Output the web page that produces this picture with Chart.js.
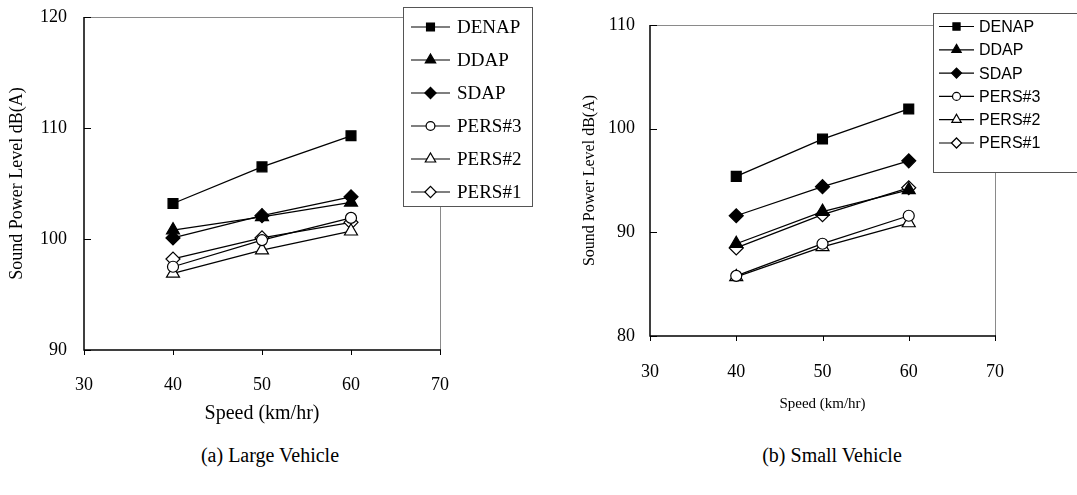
<!DOCTYPE html>
<html>
<head>
<meta charset="utf-8">
<script src="https://cdn.jsdelivr.net/npm/chart.js@4.4.1/dist/chart.umd.min.js"></script>
<style>
  body{margin:0;background:#fff;width:1077px;height:495px;overflow:hidden;position:relative;font-family:"Liberation Serif","Times New Roman",serif}
  .panel{position:absolute;top:0}
  .cap{position:absolute;top:444px;width:300px;text-align:center;font-size:20px;color:#000}
</style>
</head>
<body>
<div class="panel" style="left:0"><canvas id="large" width="540" height="440"></canvas></div>
<div class="panel" style="left:540px"><canvas id="small" width="537" height="440"></canvas></div>
<div class="cap" style="left:120px">(a) Large Vehicle</div>
<div class="cap" style="left:682px">(b) Small Vehicle</div>
<script>
// vitesses (km/h) et graduations
const speeds = [40, 50, 60];
const speedTicks = [30, 40, 50, 60, 70];
const seriesNames = ["DENAP", "DDAP", "SDAP", "PERS#3", "PERS#2", "PERS#1"];

// niveaux de puissance acoustique dB(A) — gros véhicules
const largeDenap = [103.2, 106.5, 109.3];
const largeDdap  = [100.8, 102.0, 103.3];
const largeSdap  = [100.1, 102.1, 103.8];
const largePers3 = [97.5, 99.9, 101.9];
const largePers2 = [96.9, 99.0, 100.7];
const largePers1 = [98.2, 100.1, 101.5];
const largeYTicks = [90, 100, 110, 120];

// petits véhicules
const smallDenap = [95.4, 99.0, 101.9];
const smallDdap  = [88.9, 92.0, 94.1];
const smallSdap  = [91.6, 94.4, 96.9];
const smallPers3 = [85.8, 88.9, 91.6];
const smallPers2 = [85.7, 88.6, 90.9];
const smallPers1 = [88.5, 91.7, 94.3];
const smallYTicks = [80, 90, 100, 110];

// style des marqueurs, dans l'ordre des séries
const marks = [
  {style:"rect",     fill:true,  r:7},
  {style:"triangle", fill:true,  r:7.5},
  {style:"rectRot",  fill:true,  r:7},
  {style:"circle",   fill:false, r:5.5},
  {style:"triangle", fill:false, r:7.5},
  {style:"rectRot",  fill:false, r:7},
];

function drawMark(ctx, style, fill, x, y, r){
  ctx.beginPath();
  if (style === "rect"){ const s = r*Math.SQRT1_2; ctx.rect(x-s, y-s, 2*s, 2*s); }
  else if (style === "circle"){ ctx.arc(x, y, r, 0, Math.PI*2); }
  else if (style === "rectRot"){ ctx.moveTo(x-r,y); ctx.lineTo(x,y-r); ctx.lineTo(x+r,y); ctx.lineTo(x,y+r); ctx.closePath(); }
  else if (style === "triangle"){
    for (let i=0;i<3;i++){ const a = i*2*Math.PI/3; const px = x+Math.sin(a)*r, py = y-Math.cos(a)*r; i?ctx.lineTo(px,py):ctx.moveTo(px,py); }
    ctx.closePath();
  }
  ctx.fillStyle = fill ? "#000" : "#fff";
  ctx.fill();
  ctx.lineWidth = 1.2; ctx.strokeStyle = "#000";
  ctx.stroke();
}

// cadre : axes noirs à gauche/en bas, bords gris en haut/à droite, petites graduations
const framePlugin = {
  id:"frame",
  beforeDatasetsDraw(chart){
    const {ctx, chartArea:a, scales:{x, y}} = chart;
    ctx.save();
    ctx.strokeStyle = "#8a8a8a"; ctx.lineWidth = 1;
    ctx.beginPath(); ctx.moveTo(a.left, a.top+0.5); ctx.lineTo(a.right+0.5, a.top+0.5); ctx.lineTo(a.right+0.5, a.bottom); ctx.stroke();
    ctx.strokeStyle = "#000"; ctx.lineWidth = 1.5;
    ctx.beginPath(); ctx.moveTo(a.left, a.top); ctx.lineTo(a.left, a.bottom); ctx.lineTo(a.right+1, a.bottom); ctx.stroke();
    ctx.lineWidth = 1;
    ctx.beginPath();
    y.ticks.forEach(t => { const py = Math.round(y.getPixelForValue(t.value))+0.5; ctx.moveTo(a.left, py); ctx.lineTo(a.left+7, py); });
    x.ticks.forEach(t => { const px = Math.round(x.getPixelForValue(t.value))+0.5; ctx.moveTo(px, a.bottom); ctx.lineTo(px, a.bottom+5); });
    ctx.stroke();
    ctx.restore();
  }
};

// légende encadrée, chevauchant le coin haut-droit du cadre
const boxLegend = {
  id:"boxLegend",
  afterDraw(chart, args, o){
    const ctx = chart.ctx;
    ctx.save();
    ctx.fillStyle = "#fff"; ctx.fillRect(o.x, o.y, o.w, o.h);
    ctx.strokeStyle = "#555"; ctx.lineWidth = 1;
    ctx.strokeRect(o.x+0.5, o.y+0.5, o.w, o.h);
    ctx.font = o.font; ctx.textBaseline = "middle"; ctx.fillStyle = "#000";
    chart.data.datasets.forEach((ds, i) => {
      const ry = o.y + o.first + i*o.step;
      ctx.strokeStyle = "#000"; ctx.lineWidth = 1.2;
      ctx.beginPath(); ctx.moveTo(o.lineX0, ry); ctx.lineTo(o.lineX1, ry); ctx.stroke();
      const m = marks[i];
      drawMark(ctx, m.style, m.fill, (o.lineX0+o.lineX1)/2, ry, m.r*o.scale);
      ctx.fillStyle = "#000";
      ctx.fillText(ds.label, o.textX, ry+1);
    });
    ctx.restore();
  }
};

function makeDatasets(series){
  return series.map((vals, i) => ({
    label: seriesNames[i],
    data: vals.map((v, k) => ({x: speeds[k], y: v})),
    borderColor:"#000", borderWidth:1.3, tension:0,
    pointStyle: marks[i].style, pointRadius: marks[i].r,
    pointBackgroundColor: marks[i].fill ? "#000" : "#fff",
    pointBorderColor:"#000", pointBorderWidth:1.2,
  }));
}

function buildChart(id, series, yTicks, L){
  const serif = "'Liberation Serif','Times New Roman',serif";
  new Chart(document.getElementById(id), {
    type:"line",
    data:{ datasets: makeDatasets(series) },
    plugins:[framePlugin, boxLegend],
    options:{
      responsive:false, animation:false, devicePixelRatio:1,
      layout:{ autoPadding:false, padding:{top:L.top, right:L.right, left:0, bottom:0} },
      scales:{
        x:{ type:"linear", min:speedTicks[0], max:speedTicks[speedTicks.length-1],
            afterBuildTicks: s => { s.ticks = speedTicks.map(v => ({value:v})); },
            afterFit: s => { s.height = L.xAxisH; s.paddingLeft = 0; s.paddingRight = 0; },
            grid:{display:false, drawTicks:false}, border:{display:false},
            ticks:{ padding:L.xTickPad, color:"#000", font:{family:serif, size:18} },
            title:{ display:true, text:"Speed (km/hr)", color:"#000",
                    font:{family:serif, size:L.xTitleSize}, padding:{top:0, bottom:L.xTitlePad} } },
        y:{ min:yTicks[0], max:yTicks[yTicks.length-1],
            afterBuildTicks: s => { s.ticks = yTicks.map(v => ({value:v})); },
            afterFit: s => { s.width = L.yAxisW; s.paddingTop = 0; s.paddingBottom = 0; },
            grid:{display:false, drawTicks:false}, border:{display:false},
            ticks:{ padding:L.yTickPad, color:"#000", font:{family:serif, size:18} },
            title:{ display:true, text:"Sound Power Level dB(A)", color:"#000",
                    font:{family:serif, size:L.yTitleSize}, padding:{top:L.yTitlePad, bottom:0} } },
      },
      plugins:{
        legend:{display:false}, tooltip:{enabled:false},
        boxLegend: L.legend,
      },
    },
  });
}

buildChart("large", [largeDenap, largeDdap, largeSdap, largePers3, largePers2, largePers1], largeYTicks, {
  top:17, right:100, yAxisW:84, xAxisH:90,
  xTickPad:24, xTitleSize:20, xTitlePad:14, yTickPad:17, yTitleSize:18, yTitlePad:6,
  legend:{ x:403, y:7, w:129, h:199, first:20, step:33, lineX0:411, lineX1:450, textX:457,
           font:"19px 'Liberation Serif', serif", scale:0.8 },
});

buildChart("small", [smallDenap, smallDdap, smallSdap, smallPers3, smallPers2, smallPers1], smallYTicks, {
  top:25, right:82, yAxisW:110, xAxisH:104,
  xTickPad:25, xTitleSize:15, xTitlePad:27, yTickPad:15, yTitleSize:16, yTitlePad:40,
  legend:{ x:393, y:13, w:160, h:159, first:13.5, step:23.3, lineX0:399, lineX1:434, textX:439,
           font:"16px 'Liberation Sans', Arial, sans-serif", scale:0.72 },
});
</script>
</body>
</html>
